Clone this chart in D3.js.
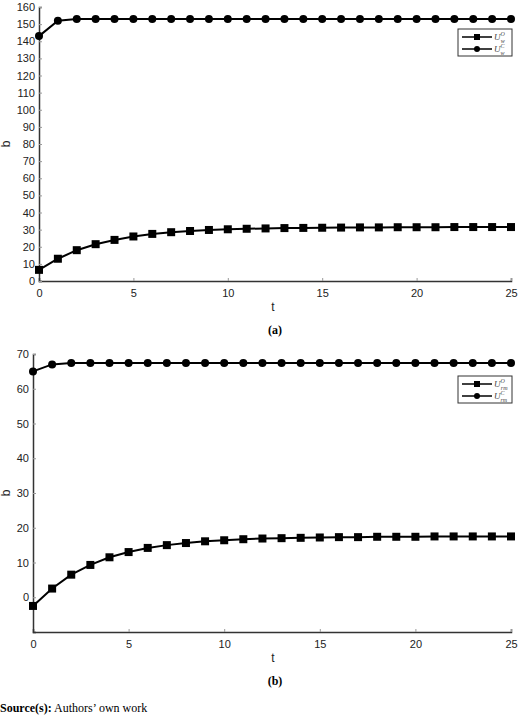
<!DOCTYPE html>
<html>
<head>
<meta charset="utf-8">
<script src="https://cdn.jsdelivr.net/npm/d3@7"></script>
<style>
  body { margin: 0; background: #fff; }
  text { font-family: "Liberation Sans", Arial, sans-serif; }
  .serif { font-family: "Liberation Serif", serif; }
</style>
</head>
<body>
<div id="chart"></div>
<script>
// data
const t = d3.range(0, 26)
const aLow = [6.5, 13, 18, 21.5, 24, 26, 27.5, 28.5, 29.2, 29.8, 30.2, 30.5, 30.7, 30.9, 31, 31.1, 31.2, 31.3, 31.3, 31.4, 31.4, 31.4, 31.5, 31.5, 31.5, 31.5]
const aHigh = [143, 152, 153, 153, 153, 153, 153, 153, 153, 153, 153, 153, 153, 153, 153, 153, 153, 153, 153, 153, 153, 153, 153, 153, 153, 153]
const bLow = [-2.5, 2.5, 6.5, 9.3, 11.5, 13, 14.2, 15, 15.6, 16.1, 16.4, 16.7, 16.9, 17, 17.1, 17.2, 17.3, 17.3, 17.4, 17.4, 17.4, 17.5, 17.5, 17.5, 17.5, 17.5]
const bHigh = [65, 67, 67.4, 67.4, 67.4, 67.4, 67.4, 67.4, 67.4, 67.4, 67.4, 67.4, 67.4, 67.4, 67.4, 67.4, 67.4, 67.4, 67.4, 67.4, 67.4, 67.4, 67.4, 67.4, 67.4, 67.4]
const xTicks = [0, 5, 10, 15, 20, 25]
const aTicks = d3.range(0, 161, 10)
const bTicks = d3.range(0, 71, 10)
const legendSup = ["O", "C"]

const svg = d3.select("#chart").append("svg")
  .attr("width", 520).attr("height", 719)

function panel(cfg) {
  const x = d3.scaleLinear().domain([0, 25]).range([cfg.left, 511])
  const y = d3.scaleLinear().domain(cfg.ydom).range([cfg.bottom, cfg.top])
  const g = svg.append("g")

  // axes
  const ax = g.append("g").attr("transform", `translate(0,${cfg.bottom})`)
    .call(d3.axisBottom(x).tickValues(xTicks).tickSize(-3).tickPadding(6))
  const ay = g.append("g").attr("transform", `translate(${cfg.left},0)`)
    .call(d3.axisLeft(y).tickValues(cfg.yticks).tickSize(-3).tickPadding(4))
  ;[ax, ay].forEach(a => {
    a.select(".domain").attr("stroke", "#333").attr("stroke-width", 1.5)
    a.selectAll(".tick line").attr("stroke", "#999")
    a.selectAll("text").attr("font-size", 11).attr("fill", "#222")
  })
  ax.selectAll("text").attr("dy", "0.9em")

  const line = d3.line().x((d, i) => x(t[i])).y(d => y(d))
  ;[cfg.high, cfg.low].forEach((s, k) => {
    g.append("path").datum(s).attr("d", line)
      .attr("fill", "none").attr("stroke", "#000").attr("stroke-width", 2)
    if (k === 0) {
      g.selectAll(null).data(s).join("circle")
        .attr("cx", (d, i) => x(t[i])).attr("cy", d => y(d)).attr("r", 4).attr("fill", "#000")
    } else {
      g.selectAll(null).data(s).join("rect")
        .attr("x", (d, i) => x(t[i]) - 4).attr("y", d => y(d) - 4)
        .attr("width", 8).attr("height", 8).attr("fill", "#000")
    }
  })

  // axis labels and caption
  g.append("text").attr("x", 273).attr("y", cfg.bottom + 30)
    .attr("text-anchor", "middle").attr("font-size", 12).attr("fill", "#222").text("t")
  g.append("text").attr("transform", `translate(10,${(cfg.top + cfg.bottom) / 2}) rotate(-90)`)
    .attr("text-anchor", "middle").attr("font-size", 12).attr("fill", "#222").text("b")
  g.append("text").attr("class", "serif").attr("x", 275).attr("y", cfg.bottom + 53)
    .attr("text-anchor", "middle").attr("font-size", 12).attr("font-weight", "bold")
    .text(cfg.caption)

  // legend
  const lx = 458, ly = cfg.legY
  g.append("rect").attr("x", lx).attr("y", ly).attr("width", 54).attr("height", 27)
    .attr("fill", "#fff").attr("stroke", "#333")
  legendSup.forEach((sup, i) => {
    const yy = ly + 8 + i * 12
    g.append("line").attr("x1", lx + 4).attr("x2", lx + 34).attr("y1", yy).attr("y2", yy)
      .attr("stroke", "#000").attr("stroke-width", 1.5)
    if (i === 0) g.append("rect").attr("x", lx + 16).attr("y", yy - 3).attr("width", 6).attr("height", 6)
    else g.append("circle").attr("cx", lx + 19).attr("cy", yy).attr("r", 3)
    const tx = g.append("text").attr("class", "serif").attr("x", lx + 36).attr("y", yy + 3)
      .attr("font-size", 9).attr("font-style", "italic").attr("fill", "#444")
    tx.append("tspan").text("U")
    tx.append("tspan").attr("dy", -4).attr("font-size", 6).text(sup)
    tx.append("tspan").attr("dx", -4).attr("dy", 7).attr("font-size", 6).text(cfg.sub)
  })
}

panel({ top: 7, bottom: 281, left: 39, ydom: [0, 160], yticks: aTicks,
  low: aLow, high: aHigh, caption: "(a)", legY: 29, sub: "w" })
panel({ top: 354, bottom: 632, left: 33, ydom: [-10, 70], yticks: bTicks,
  low: bLow, high: bHigh, caption: "(b)", legY: 376, sub: "rm" })

svg.append("text").attr("class", "serif").attr("x", 0).attr("y", 712).attr("font-size", 12)
  .call(s => {
    s.append("tspan").attr("font-weight", "bold").text("Source(s):")
    s.append("tspan").text(" Authors\u2019 own work")
  })
</script>
</body>
</html>
